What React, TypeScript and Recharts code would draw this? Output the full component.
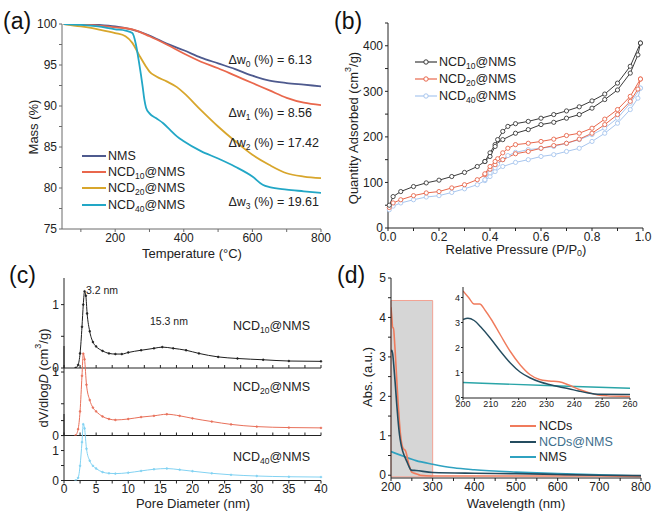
import React from 'react';
import { LineChart, Line, XAxis, YAxis, ReferenceArea } from 'recharts';

const FONT = '"Liberation Sans", Arial, Helvetica, sans-serif';

// ---------- (a) TGA ----------
const tgaNmsT = [50, 100, 150, 200, 250, 300, 350, 400, 450, 500, 550, 600, 650, 700, 750, 800];
const tgaNmsM = [100, 100, 99.9, 99.7, 99.3, 98.6, 97.6, 96.8, 95.9, 95.2, 94.5, 93.7, 93.1, 92.8, 92.6, 92.4];
const tgaNcd10T = [50, 100, 150, 200, 250, 300, 350, 400, 450, 500, 550, 600, 650, 700, 750, 800];
const tgaNcd10M = [100, 99.95, 99.8, 99.6, 99.35, 98.5, 97.5, 96.4, 95.4, 94.6, 93.7, 92.8, 91.9, 91.0, 90.4, 90.1];
const tgaNcd20T = [50, 100, 150, 200, 230, 250, 270, 290, 300, 320, 350, 380, 400, 450, 500, 550, 600, 650, 700, 750, 800];
const tgaNcd20M = [100, 99.7, 99.35, 98.9, 98.5, 97.7, 96.2, 94.8, 94.2, 93.6, 93.0, 92.3, 91.6, 89.5, 87.5, 85.7, 84.05, 82.8, 81.8, 81.4, 81.2];
const tgaNcd40T = [50, 100, 150, 200, 230, 250, 260, 270, 280, 285, 290, 300, 320, 340, 360, 380, 400, 450, 500, 550, 600, 630, 650, 700, 750, 800];
const tgaNcd40M = [100, 99.9, 99.7, 99.35, 99.2, 98.9, 97.6, 95.2, 92.4, 90.8, 89.8, 89.1, 88.5, 87.9, 87.1, 86.3, 85.7, 84.5, 83.6, 82.6, 81.4, 80.4, 80.1, 79.8, 79.6, 79.4];
const tgaXTicks = [100, 200, 300, 400, 500, 600, 700, 800];
const tgaYTicks = [75, 77.5, 80, 82.5, 85, 87.5, 90, 92.5, 95, 97.5, 100];

// ---------- (b) N2 isotherms ----------
const pAds = [0.005, 0.02, 0.05, 0.1, 0.15, 0.2, 0.25, 0.3, 0.35, 0.38, 0.4, 0.42, 0.45, 0.5, 0.55, 0.6, 0.65, 0.7, 0.75, 0.8, 0.85, 0.9, 0.95, 0.98, 0.99];
const pDes = [0.99, 0.95, 0.9, 0.85, 0.8, 0.75, 0.7, 0.65, 0.6, 0.55, 0.5, 0.47, 0.45, 0.43, 0.42, 0.4, 0.38];
const ncd10Ads = [50, 69, 80, 91, 99, 105, 113, 122, 135, 146, 165, 183, 194, 208, 216, 227, 232, 241, 249, 263, 282, 303, 340, 380, 406];
const ncd10Des = [406, 355, 318, 294, 279, 266, 257, 249, 241, 234, 229, 223, 212, 194, 179, 157, 146];
const ncd20Ads = [45, 55, 62, 71, 77, 80, 88, 95, 106, 117, 129, 139, 150, 163, 168, 175, 181, 186, 195, 208, 227, 249, 278, 305, 327];
const ncd20Des = [327, 289, 260, 239, 219, 208, 203, 195, 190, 186, 183, 175, 165, 152, 146, 135, 119];
const ncd40Ads = [40, 48, 55, 62, 68, 71, 78, 86, 95, 104, 113, 124, 135, 144, 150, 157, 161, 168, 175, 190, 208, 230, 260, 285, 307];
const ncd40Des = [307, 274, 241, 219, 205, 194, 186, 179, 175, 172, 166, 159, 150, 140, 132, 121, 106];
const bXTicks = [0, 0.1, 0.2, 0.3, 0.4, 0.5, 0.6, 0.7, 0.8, 0.9, 1.0];
const bYTicks = [0, 50, 100, 150, 200, 250, 300, 350, 400, 450];

// ---------- (c) pore size distribution ----------
const dSub1 = [1.8, 2.2, 2.5, 2.8, 3.0, 3.2, 3.4, 3.6, 4.0, 4.5, 5, 6, 7, 8, 9, 10, 12, 14, 15.3, 17, 19, 21, 24, 27, 31, 35, 40];
const vSub1 = [0, 0.05, 0.23, 0.65, 1.0, 1.21, 1.14, 0.86, 0.58, 0.41, 0.34, 0.27, 0.23, 0.22, 0.22, 0.245, 0.28, 0.31, 0.33, 0.31, 0.28, 0.23, 0.175, 0.15, 0.13, 0.11, 0.105];
const dSub2 = [1.8, 2.2, 2.5, 2.8, 3.0, 3.2, 3.5, 4, 4.5, 5, 6, 7, 8, 10, 12, 14, 16, 18, 20, 23, 26, 30, 35, 40];
const vSub2 = [0, 0.1, 0.38, 0.94, 1.29, 1.2, 0.8, 0.56, 0.44, 0.38, 0.3, 0.26, 0.245, 0.26, 0.29, 0.31, 0.335, 0.31, 0.27, 0.22, 0.175, 0.14, 0.125, 0.12];
const dSub3 = [1.8, 2.2, 2.5, 2.8, 3.0, 3.2, 3.5, 4, 4.5, 5, 6, 7, 8, 10, 12, 14, 16, 18, 20, 23, 26, 30, 35, 40];
const vSub3 = [0, 0.09, 0.49, 1.28, 1.88, 1.74, 1.06, 0.66, 0.49, 0.4, 0.28, 0.24, 0.23, 0.26, 0.32, 0.375, 0.4, 0.36, 0.31, 0.24, 0.19, 0.15, 0.125, 0.115];
const cXTicks = [0, 2.5, 5, 7.5, 10, 12.5, 15, 17.5, 20, 22.5, 25, 27.5, 30, 32.5, 35, 37.5, 40];
const cYTicks = [0, 0.5, 1];
const cYTicks3 = [0, 0.5, 1, 1.5, 2];

// ---------- (d) UV-vis ----------
const wlNcds = [200, 202, 204, 206, 208, 210, 213.5, 217, 220.5, 224, 227.5, 231, 234.5, 238, 241.5, 245, 248.5, 252, 260, 270, 300, 400, 500, 600, 700, 800];
const absNcds = [4.26, 4.0, 3.74, 3.74, 3.48, 3.15, 2.49, 1.84, 1.31, 0.92, 0.72, 0.66, 0.63, 0.5, 0.33, 0.2, 0.1, 0.065, 0.04, 0.0, -0.02, -0.02, -0.02, -0.02, -0.02, -0.03];
const wlNcdsNms = [200, 201.75, 204, 206.4, 209.9, 213.5, 217, 220.5, 224, 227.5, 231, 234.5, 238, 241.5, 245, 248.5, 260, 300, 400, 500, 600, 700, 800];
const absNcdsNms = [3.12, 3.17, 3.08, 2.82, 2.36, 1.84, 1.38, 1.02, 0.79, 0.63, 0.52, 0.43, 0.35, 0.26, 0.18, 0.13, 0.12, 0.07, 0.05, 0.04, 0.02, 0.0, -0.01];
const wlNms = [200, 230, 260, 300, 350, 400, 500, 600, 700, 800];
const absNms = [0.6, 0.48, 0.37, 0.28, 0.19, 0.14, 0.08, 0.04, 0.01, -0.02];
const dXTicks = [200, 250, 300, 350, 400, 450, 500, 550, 600, 650, 700, 750, 800];
const dYTicks = [0, 0.5, 1, 1.5, 2, 2.5, 3, 3.5, 4, 4.5, 5];
const insetXTicks = [200, 210, 220, 230, 240, 250, 260];
const insetYTicks = [0, 1, 2, 3, 4];

// colors
const A_NMS = '#4e5a8e', A_10 = '#e9674c', A_20 = '#d8a62c', A_40 = '#22a7c6';
const B_10 = '#3a3a3a', B_20 = '#e8674c', B_40 = '#a8c6ee';
const C_1 = '#1e1e1e', C_2 = '#e8705a', C_3 = '#82d2f2';
const D_NCDS = '#f07b5c', D_NN = '#244c5f', D_NMS = '#2fa2c0';

const zip = (xs: number[], ys: number[]) => xs.map((x, i) => ({ x, y: ys[i] }));
const isMul = (v: number, m: number) => Math.abs(v / m - Math.round(v / m)) < 1e-6;

type Rect = { L: number; T: number; R: number; B: number };
const PL = 50, PT = 8, PR = 20, PB = 30, YW = 40, XH = 22;
function geom(r: Rect) {
  return {
    style: { position: 'absolute', left: r.L - PL, top: r.T - PT } as React.CSSProperties,
    width: r.R - r.L + PL + PR,
    height: r.B - r.T + PT + PB,
    margin: { left: PL - YW, top: PT, right: PR, bottom: PB - XH },
  };
}
const ax = (color: string, fs = 12, ts = 3, tm = 1) => ({
  axisLine: { stroke: color, strokeWidth: 1 },
  tickLine: { stroke: color, strokeWidth: 1 },
  tickSize: ts,
  tickMargin: tm,
  tick: { fontSize: fs, fill: '#222', fontFamily: FONT },
  interval: 0 as const,
});

function frameAxes(color: string) {
  return [
    <XAxis key="ft" xAxisId="top" orientation="top" type="number" domain={[0, 1]} height={0} tick={false} tickLine={false} axisLine={{ stroke: color }} />,
    <YAxis key="fr" yAxisId="right" orientation="right" type="number" domain={[0, 1]} width={0} tick={false} tickLine={false} axisLine={{ stroke: color }} />,
  ];
}

const rA: Rect = { L: 62, T: 24, R: 321, B: 229 };
const rB: Rect = { L: 388, T: 23, R: 643, B: 228 };
const rC1: Rect = { L: 64, T: 278, R: 321, B: 346 };
const rC2: Rect = { L: 64, T: 346, R: 321, B: 413.5 };
const rC3: Rect = { L: 64, T: 413.5, R: 321, B: 480 };
const rD: Rect = { L: 391, T: 278, R: 641, B: 478 };
const rDi: Rect = { L: 463, T: 287, R: 630, B: 398 };

function SubText(p: { x: number; y: number; pre: string; sub: string; post: string; size?: number; anchor?: string; fill?: string; sup?: boolean }) {
  const size = p.size ?? 12.5;
  const d = p.sup ? -size * 0.4 : size * 0.28;
  return (
    <text x={p.x} y={p.y} fontSize={size} fill={p.fill ?? '#222'} textAnchor={(p.anchor ?? 'start') as any} dominantBaseline="central" fontFamily={FONT}>
      {p.pre}
      <tspan dy={d} fontSize={size * 0.68}>{p.sub}</tspan>
      <tspan dy={-d}>{p.post}</tspan>
    </text>
  );
}

function Rot(p: { x: number; y: number; children: any; size?: number }) {
  return (
    <text x={p.x} y={p.y} transform={`rotate(-90 ${p.x} ${p.y})`} textAnchor="middle" dominantBaseline="central" fontSize={p.size ?? 13} fill="#222" fontFamily={FONT}>
      {p.children}
    </text>
  );
}

function Overlay() {
  const legA = [
    { c: A_NMS, pre: 'NMS', sub: '', post: '' },
    { c: A_10, pre: 'NCD', sub: '10', post: '@NMS' },
    { c: A_20, pre: 'NCD', sub: '20', post: '@NMS' },
    { c: A_40, pre: 'NCD', sub: '40', post: '@NMS' },
  ];
  const legAY = [156, 172, 188, 205];
  const legB = [
    { c: B_10, sub: '10' },
    { c: B_20, sub: '20' },
    { c: B_40, sub: '40' },
  ];
  const legBY = [62, 79, 96];
  const legD = [
    { c: D_NCDS, t: 'NCDs', tc: '#222' },
    { c: D_NN, t: 'NCDs@NMS', tc: '#3d6e8c' },
    { c: D_NMS, t: 'NMS', tc: '#222' },
  ];
  const legDY = [426, 442, 457];
  return (
    <svg width={656} height={513} style={{ position: 'absolute', left: 0, top: 0, pointerEvents: 'none' }}>
      <g fontFamily={FONT} fill="#111">
        <text x={3} y={29} fontSize={23}>(a)</text>
        <text x={334} y={29} fontSize={23}>(b)</text>
        <text x={9} y={283} fontSize={23}>(c)</text>
        <text x={337} y={283} fontSize={23}>(d)</text>
      </g>
      {/* axis titles */}
      <Rot x={33} y={127}>Mass (%)</Rot>
      <text x={192} y={253} textAnchor="middle" dominantBaseline="central" fontSize={13} fill="#222" fontFamily={FONT}>Temperature (°C)</text>
      <Rot x={353} y={128}>
        Quantity Adsorbed (cm<tspan dy={-5} fontSize={9}>3</tspan><tspan dy={5}>/g)</tspan>
      </Rot>
      <SubText x={516} y={249} pre="Relative Pressure (P/P" sub="0" post=")" size={13} anchor="middle" />
      <Rot x={43} y={378}>
        dV/dlog<tspan fontStyle="italic">D</tspan> (cm<tspan dy={-5} fontSize={9}>3</tspan><tspan dy={5}>/g)</tspan>
      </Rot>
      <text x={193} y={503} textAnchor="middle" dominantBaseline="central" fontSize={13} fill="#222" fontFamily={FONT}>Pore Diameter (nm)</text>
      <Rot x={367} y={377}>Abs. (a.u.)</Rot>
      <text x={516} y={503} textAnchor="middle" dominantBaseline="central" fontSize={13} fill="#222" fontFamily={FONT}>Wavelength (nm)</text>

      {/* (a) annotations */}
      <SubText x={312} y={60} pre="Δw" sub="0" post=" (%) = 6.13" size={12.5} anchor="end" />
      <SubText x={312} y={113} pre="Δw" sub="1" post=" (%) = 8.56" size={12.5} anchor="end" />
      <SubText x={319} y={143} pre="Δw" sub="2" post=" (%) = 17.42" size={12.5} anchor="end" />
      <SubText x={319} y={202} pre="Δw" sub="3" post=" (%) = 19.61" size={12.5} anchor="end" />
      {legA.map((l, i) => (
        <g key={i}>
          <line x1={82} x2={106} y1={legAY[i]} y2={legAY[i]} stroke={l.c} strokeWidth={2} />
          {l.sub ? <SubText x={108} y={legAY[i]} pre={l.pre} sub={l.sub} post={l.post} size={12.5} /> :
            <text x={108} y={legAY[i]} dominantBaseline="central" fontSize={12.5} fill="#222" fontFamily={FONT}>{l.pre}</text>}
        </g>
      ))}
      {/* (b) legend */}
      {legB.map((l, i) => (
        <g key={i}>
          <line x1={415} x2={437} y1={legBY[i]} y2={legBY[i]} stroke={l.c} strokeWidth={1.2} />
          <circle cx={426} cy={legBY[i]} r={2.2} fill="#fff" stroke={l.c} strokeWidth={1} />
          <SubText x={439} y={legBY[i]} pre="NCD" sub={l.sub} post="@NMS" size={12.5} />
        </g>
      ))}
      {/* (c) labels */}
      <text x={86} y={290} dominantBaseline="central" fontSize={10.5} fill="#222" fontFamily={FONT}>3.2 nm</text>
      <text x={150} y={321} dominantBaseline="central" fontSize={10.5} fill="#222" fontFamily={FONT}>15.3 nm</text>
      <SubText x={310} y={326} pre="NCD" sub="10" post="@NMS" size={12.5} anchor="end" />
      <SubText x={310} y={387} pre="NCD" sub="20" post="@NMS" size={12.5} anchor="end" />
      <SubText x={310} y={457} pre="NCD" sub="40" post="@NMS" size={12.5} anchor="end" />
      {/* (d) legend */}
      {legD.map((l, i) => (
        <g key={i}>
          <line x1={510} x2={536} y1={legDY[i]} y2={legDY[i]} stroke={l.c} strokeWidth={2} />
          <text x={539} y={legDY[i]} dominantBaseline="central" fontSize={12.5} fill={l.tc} fontFamily={FONT}>{l.t}</text>
        </g>
      ))}
    </svg>
  );
}

export default function App() {
  const gA = geom(rA), gB = geom(rB), gC1 = geom(rC1), gC2 = geom(rC2), gC3 = geom(rC3), gD = geom(rD), gDi = geom(rDi);
  const aCol = '#6b6b6b', k = '#222';
  const openDot = (c: string) => ({ r: 2.1, fill: '#fff', stroke: c, strokeWidth: 0.9 });
  const cDot = (c: string) => ({ r: 0.9, fill: c, stroke: c, strokeWidth: 0.6 });
  return (
    <div style={{ position: 'absolute', left: 0, top: 0, width: 656, height: 513, background: '#fff', overflow: 'hidden', fontFamily: FONT }}>
      {/* (a) */}
      <div style={gA.style}>
        <LineChart width={gA.width} height={gA.height} margin={gA.margin}>
          <XAxis dataKey="x" type="number" domain={[45, 800]} allowDataOverflow ticks={tgaXTicks} height={XH}
            tickFormatter={(v: number) => (isMul(v, 200) ? String(v) : '')} {...ax(aCol)} />
          <YAxis type="number" domain={[75, 100]} allowDataOverflow ticks={tgaYTicks} width={YW}
            tickFormatter={(v: number) => (isMul(v, 5) ? String(v) : '')} {...ax(aCol, 12, 3, 2)} />
          {frameAxes(aCol)}
          <Line data={zip(tgaNmsT, tgaNmsM)} dataKey="y" stroke={A_NMS} strokeWidth={1.8} dot={false} isAnimationActive={false} type="monotone" />
          <Line data={zip(tgaNcd10T, tgaNcd10M)} dataKey="y" stroke={A_10} strokeWidth={1.8} dot={false} isAnimationActive={false} type="monotone" />
          <Line data={zip(tgaNcd20T, tgaNcd20M)} dataKey="y" stroke={A_20} strokeWidth={1.8} dot={false} isAnimationActive={false} type="monotone" />
          <Line data={zip(tgaNcd40T, tgaNcd40M)} dataKey="y" stroke={A_40} strokeWidth={1.8} dot={false} isAnimationActive={false} type="monotone" />
        </LineChart>
      </div>

      {/* (b) */}
      <div style={gB.style}>
        <LineChart width={gB.width} height={gB.height} margin={gB.margin}>
          <XAxis dataKey="x" type="number" domain={[0, 1]} ticks={bXTicks} height={XH}
            tickFormatter={(v: number) => (isMul(v, 0.2) ? v.toFixed(1) : '')} {...ax(k)} />
          <YAxis type="number" domain={[0, 450]} ticks={bYTicks} width={YW}
            tickFormatter={(v: number) => (isMul(v, 100) ? String(v) : '')} {...ax(k, 12, 3, 2)} />
          {frameAxes(k)}
          <Line data={[...zip(pAds, ncd40Ads), ...zip(pDes, ncd40Des)]} dataKey="y" stroke={B_40} strokeWidth={1} dot={openDot(B_40)} isAnimationActive={false} />
          <Line data={[...zip(pAds, ncd20Ads), ...zip(pDes, ncd20Des)]} dataKey="y" stroke={B_20} strokeWidth={1} dot={openDot(B_20)} isAnimationActive={false} />
          <Line data={[...zip(pAds, ncd10Ads), ...zip(pDes, ncd10Des)]} dataKey="y" stroke={B_10} strokeWidth={1} dot={openDot(B_10)} isAnimationActive={false} />
        </LineChart>
      </div>

      {/* (c) three stacked */}
      <div style={gC1.style}>
        <LineChart width={gC1.width} height={gC1.height} margin={gC1.margin}>
          <XAxis dataKey="x" type="number" domain={[0, 40]} ticks={cXTicks} height={XH} mirror tickFormatter={() => ''} {...ax(k)} />
          <YAxis type="number" domain={[0, 1.42]} allowDataOverflow ticks={cYTicks} width={YW}
            tickFormatter={(v: number) => (isMul(v, 1) ? String(v) : '')} {...ax(k, 12, 3, 2)} />
          {frameAxes(k)}
          <Line data={zip(dSub1, vSub1)} dataKey="y" stroke={C_1} strokeWidth={1} dot={cDot(C_1)} isAnimationActive={false} type="monotone" />
        </LineChart>
      </div>
      <div style={gC2.style}>
        <LineChart width={gC2.width} height={gC2.height} margin={gC2.margin}>
          <XAxis dataKey="x" type="number" domain={[0, 40]} ticks={cXTicks} height={XH} mirror tickFormatter={() => ''} {...ax(k)} />
          <YAxis type="number" domain={[0, 1.41]} allowDataOverflow ticks={cYTicks} width={YW}
            tickFormatter={(v: number) => (isMul(v, 1) ? String(v) : '')} {...ax(k, 12, 3, 2)} />
          {frameAxes(k)}
          <Line data={zip(dSub2, vSub2)} dataKey="y" stroke={C_2} strokeWidth={1} dot={cDot(C_2)} isAnimationActive={false} type="monotone" />
        </LineChart>
      </div>
      <div style={gC3.style}>
        <LineChart width={gC3.width} height={gC3.height} margin={gC3.margin}>
          <XAxis dataKey="x" type="number" domain={[0, 40]} ticks={cXTicks} height={XH}
            tickFormatter={(v: number) => (isMul(v, 5) ? String(v) : '')} {...ax(k)} />
          <YAxis type="number" domain={[0, 2.22]} allowDataOverflow ticks={cYTicks3} width={YW}
            tickFormatter={(v: number) => (v === 0 || v === 1 ? String(v) : '')} {...ax(k, 12, 3, 2)} />
          {frameAxes(k)}
          <Line data={zip(dSub3, vSub3)} dataKey="y" stroke={C_3} strokeWidth={1} dot={cDot(C_3)} isAnimationActive={false} type="monotone" />
        </LineChart>
      </div>

      {/* (d) main */}
      <div style={gD.style}>
        <LineChart width={gD.width} height={gD.height} margin={gD.margin}>
          <XAxis dataKey="x" type="number" domain={[200, 800]} allowDataOverflow ticks={dXTicks} height={XH}
            tickFormatter={(v: number) => (isMul(v, 100) ? String(v) : '')} {...ax(k)} />
          <YAxis type="number" domain={[-0.07, 5]} allowDataOverflow ticks={dYTicks} width={YW}
            tickFormatter={(v: number) => (isMul(v, 1) ? String(v) : '')} {...ax(k, 12, 3, 2)} />
          {frameAxes(k)}
          <ReferenceArea x1={200} x2={300} y1={-0.04} y2={4.43} fill="#d6d6d6" fillOpacity={1} stroke="#f2a293" strokeWidth={1} />
          <Line data={zip(wlNms, absNms)} dataKey="y" stroke={D_NMS} strokeWidth={1.6} dot={false} isAnimationActive={false} type="monotone" />
          <Line data={zip(wlNcds, absNcds)} dataKey="y" stroke={D_NCDS} strokeWidth={1.6} dot={false} isAnimationActive={false} type="monotone" />
          <Line data={zip(wlNcdsNms, absNcdsNms)} dataKey="y" stroke={D_NN} strokeWidth={1.6} dot={false} isAnimationActive={false} type="monotone" />
        </LineChart>
      </div>
      {/* (d) inset */}
      <div style={gDi.style}>
        <LineChart width={gDi.width} height={gDi.height} margin={gDi.margin}>
          <XAxis dataKey="x" type="number" domain={[200, 260]} allowDataOverflow ticks={insetXTicks} height={XH} {...ax(k, 9, 2, 1)} />
          <YAxis type="number" domain={[-0.02, 4.42]} allowDataOverflow ticks={insetYTicks} width={YW} {...ax(k, 9, 2, 1)} />
          {frameAxes(k)}
          <Line data={zip(wlNms, absNms)} dataKey="y" stroke="#2aa5a8" strokeWidth={1.4} dot={false} isAnimationActive={false} type="monotone" />
          <Line data={zip(wlNcds, absNcds)} dataKey="y" stroke={D_NCDS} strokeWidth={1.4} dot={false} isAnimationActive={false} type="monotone" />
          <Line data={zip(wlNcdsNms, absNcdsNms)} dataKey="y" stroke={D_NN} strokeWidth={1.4} dot={false} isAnimationActive={false} type="monotone" />
        </LineChart>
      </div>

      <Overlay />
    </div>
  );
}
